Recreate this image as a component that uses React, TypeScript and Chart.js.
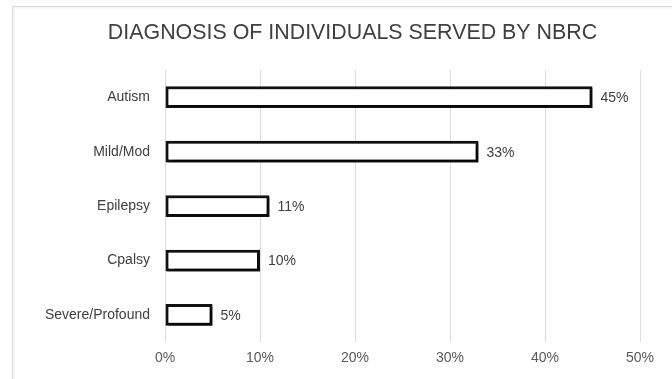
import React, { useEffect, useRef } from "react";
import { Chart, registerables } from "chart.js";

Chart.register(...registerables);

const titleText = "DIAGNOSIS OF INDIVIDUALS SERVED BY NBRC";
const categories = ["Autism", "Mild/Mod", "Epilepsy", "Cpalsy", "Severe/Profound"];
const percentages = [45, 33, 11, 10, 5];
const axisMin = 0;
const axisMax = 50;
const axisStep = 10;

const FONT = "'Liberation Sans', Arial, sans-serif";

const shadowPlugin = {
  id: "barShadow",
  beforeDatasetDraw(chart: any) {
    const ctx = chart.ctx;
    ctx.save();
    ctx.shadowColor = "rgba(0,0,0,0.6)";
    ctx.shadowBlur = 1.5;
    ctx.shadowOffsetX = 2;
    ctx.shadowOffsetY = 2;
  },
  afterDatasetDraw(chart: any) {
    chart.ctx.restore();
  },
};

const labelPlugin = {
  id: "valueLabels",
  afterDatasetsDraw(chart: any) {
    const ctx = chart.ctx;
    const meta = chart.getDatasetMeta(0);
    ctx.save();
    ctx.font = `14px ${FONT}`;
    ctx.fillStyle = "#404040";
    ctx.textAlign = "left";
    ctx.textBaseline = "middle";
    meta.data.forEach((bar: any, i: number) => {
      const v = chart.data.datasets[0].data[i];
      ctx.fillText(`${v}%`, bar.x + 8, bar.y + 1);
    });
    ctx.restore();
  },
};

const titlePlugin = {
  id: "customTitle",
  afterDraw(chart: any) {
    const ctx = chart.ctx;
    ctx.save();
    ctx.font = `21.4px ${FONT}`;
    ctx.fillStyle = "#404040";
    ctx.textAlign = "center";
    ctx.textBaseline = "middle";
    const cx = (chart.chartArea.left + chart.chartArea.right) / 2 - 50;
    ctx.fillText(titleText, cx, 33);
    ctx.restore();
  },
};

export default function App() {
  const ref = useRef<HTMLCanvasElement | null>(null);

  useEffect(() => {
    if (!ref.current) return;
    const chart = new Chart(ref.current, {
      type: "bar",
      data: {
        labels: categories,
        datasets: [
          {
            data: percentages,
            backgroundColor: "#ffffff",
            borderColor: "#111111",
            borderWidth: 3,
            borderSkipped: false,
            barPercentage: 0.4,
            categoryPercentage: 1,
          },
        ],
      },
      options: {
        indexAxis: "y",
        animation: false,
        responsive: false,
        layout: { padding: { left: 20, right: 32, top: 70, bottom: 4 } },
        plugins: {
          legend: { display: false },
          tooltip: { enabled: false },
          title: { display: false },
        },
        scales: {
          x: {
            min: axisMin,
            max: axisMax,
            ticks: {
              stepSize: axisStep,
              callback: (v: any) => `${v}%`,
              color: "#595959",
              font: { family: FONT, size: 14 },
              padding: 8,
            },
            grid: { color: "#dcdcdc", drawTicks: false },
            border: { display: false },
          },
          y: {
            grid: { display: false },
            border: { display: false },
            ticks: {
              color: "#404040",
              font: { family: FONT, size: 14 },
              padding: 7,
            },
            afterFit: (scale: any) => {
              scale.width = 145;
            },
          },
        },
      },
      plugins: [shadowPlugin, labelPlugin, titlePlugin],
    });
    return () => chart.destroy();
  }, []);

  return (
    <div
      style={{
        position: "fixed",
        left: 0,
        top: 0,
        width: 672,
        height: 379,
        overflow: "hidden",
        background: "#ffffff",
      }}
    >
      <div
        style={{
          position: "absolute",
          left: 12,
          top: 6,
          width: 720,
          height: 420,
          border: "1px solid #d9d9d9",
          boxShadow: "inset 2px 2px 2px rgba(0,0,0,0.04)",
        }}
      />
      <canvas
        ref={ref}
        width={672}
        height={379}
        style={{ position: "absolute", left: 0, top: 0 }}
      />
    </div>
  );
}
